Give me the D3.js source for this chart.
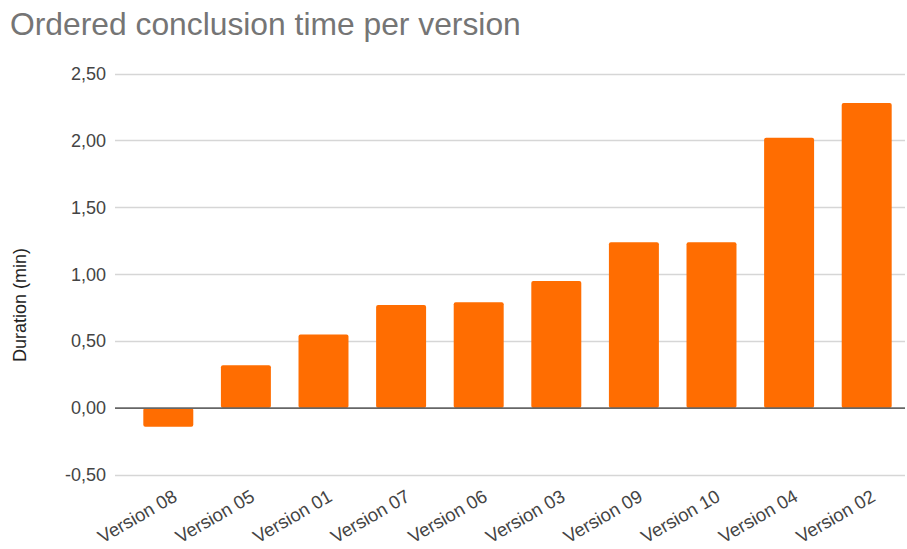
<!DOCTYPE html>
<html>
<head>
<meta charset="utf-8">
<script src="https://cdn.jsdelivr.net/npm/d3@7"></script>
<style>
  html, body { margin: 0; padding: 0; background: #fff; }
  svg { display: block; font-family: "Liberation Sans", Arial, sans-serif; }
</style>
</head>
<body>
<svg id="chart" width="907" height="549"></svg>
<script>
// Versions, ordered by conclusion time
const categories = ["Version 08", "Version 05", "Version 01", "Version 07", "Version 06",
                    "Version 03", "Version 09", "Version 10", "Version 04", "Version 02"];
// Duration in minutes for each version
const durations = [-0.14, 0.32, 0.55, 0.77, 0.79, 0.95, 1.24, 1.24, 2.02, 2.28];
// Y axis ticks
const yTicks = [-0.5, 0, 0.5, 1.0, 1.5, 2.0, 2.5];

const title = "Ordered conclusion time per version";
const yTitle = "Duration (min)";

const svg = d3.select("#chart");
const plot = { left: 115, right: 905, top: 73.5, bottom: 475 };

const locale = d3.formatLocale({ decimal: ",", thousands: ".", grouping: [3], currency: ["", "€"], minus: "-" });
const fmt = locale.format(".2f");

const x = d3.scaleBand()
  .domain(categories)
  .range([129.5, 905.5])
  .paddingInner(0.356)
  .paddingOuter(0.178);

const y = d3.scaleLinear()
  .domain([-0.5, 2.5])
  .range([plot.bottom, plot.top]);

// Title
svg.append("text")
  .attr("x", 10)
  .attr("y", 35)
  .attr("font-size", 31.8)
  .attr("fill", "#757575")
  .text(title);

// Gridlines
svg.append("g")
  .selectAll("line")
  .data(yTicks.filter(d => d !== 0))
  .join("line")
  .attr("x1", plot.left)
  .attr("x2", plot.right)
  .attr("y1", d => Math.round(y(d)) + 0.5)
  .attr("y2", d => Math.round(y(d)) + 0.5)
  .attr("stroke", "#d6d6d6")
  .attr("stroke-width", 1.4);

// Y axis labels
const yAxis = d3.axisLeft(y).tickValues(yTicks).tickFormat(fmt).tickSize(0).tickPadding(0);
const gy = svg.append("g")
  .attr("transform", `translate(106,0)`)
  .call(yAxis);
gy.select(".domain").remove();
gy.selectAll("text")
  .attr("font-size", 18)
  .attr("fill", "#444")
  .attr("font-family", "Liberation Sans, Arial, sans-serif");

// Y axis title
svg.append("text")
  .attr("transform", "translate(26,305) rotate(-90)")
  .attr("text-anchor", "middle")
  .attr("font-size", 18)
  .attr("fill", "#222")
  .text(yTitle);

// Bars
svg.append("g")
  .selectAll("rect")
  .data(durations)
  .join("rect")
  .attr("x", (d, i) => x(categories[i]))
  .attr("width", x.bandwidth())
  .attr("y", d => y(Math.max(0, d)))
  .attr("height", d => Math.abs(y(d) - y(0)))
  .attr("rx", 2)
  .attr("fill", "#ff6d01");

// Zero baseline
svg.append("line")
  .attr("x1", plot.left)
  .attr("x2", plot.right)
  .attr("y1", y(0))
  .attr("y2", y(0))
  .attr("stroke", "#666")
  .attr("stroke-width", 1.6);

// X axis labels, slanted
svg.append("g")
  .selectAll("text")
  .data(categories)
  .join("text")
  .attr("transform", d => `translate(${x(d) + x.bandwidth() / 2 + 10},500) rotate(-30)`)
  .attr("text-anchor", "end")
  .attr("font-size", 18.5)
  .attr("fill", "#444")
  .text(d => d);
</script>
</body>
</html>
